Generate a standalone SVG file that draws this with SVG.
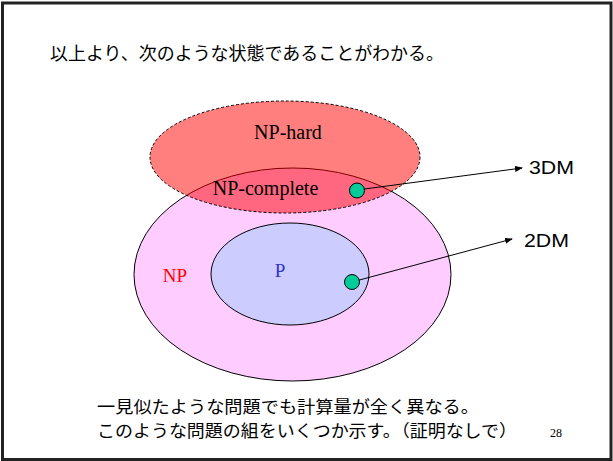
<svg xmlns="http://www.w3.org/2000/svg" width="613" height="461" viewBox="0 0 613 461">
<style>
.jp{font-family:"Noto Sans CJK JP","Liberation Sans",sans-serif;font-size:18px;fill:#000}
.jpb{font-family:"Noto Sans CJK JP","Liberation Sans",sans-serif;font-size:17px;fill:#000}
.serif{font-family:"Liberation Serif","DejaVu Serif",serif;fill:#000}
.lbl{font-family:"Liberation Sans","DejaVu Sans",sans-serif;font-size:19px;fill:#000}
.dot{fill:#00CC99;stroke:#000;stroke-width:1}
.conn{stroke:#000;stroke-width:1;fill:none;marker-end:url(#ah)}
</style>
<defs>
<marker id="ah" markerWidth="8" markerHeight="6" refX="7" refY="3" orient="auto" markerUnits="userSpaceOnUse">
<path d="M0,0 L8,3 L0,6 Z" fill="#000"/>
</marker>
</defs>
<rect x="0" y="0" width="613" height="461" fill="#fff"/>
<rect x="2.5" y="3" width="608.5" height="456.5" fill="none" stroke="#222" stroke-width="3"/>
<text class="jp" x="50" y="60" textLength="394" lengthAdjust="spacingAndGlyphs">以上より、次のような状態であることがわかる。</text>
<g id="np">
<ellipse cx="292.5" cy="274.5" rx="158.5" ry="106.5" fill="#FFCCFF" stroke="#000" stroke-width="1"/>
<text class="serif" x="175" y="282" font-size="19" text-anchor="middle" style="fill:#FF0000">NP</text>
</g>
<g id="p">
<ellipse cx="290" cy="274" rx="79" ry="51" fill="#CCCCFF" stroke="#000" stroke-width="1"/>
<text class="serif" x="280" y="277" font-size="19" text-anchor="middle" style="fill:#3333CC">P</text>
</g>
<g id="nphard">
<ellipse cx="285" cy="157" rx="135" ry="56" fill="#FF0000" fill-opacity="0.5" stroke="#000" stroke-width="1" stroke-dasharray="3,2"/>
<text class="serif" x="288" y="139" font-size="20" text-anchor="middle">NP-hard</text>
<text class="serif" x="265.5" y="195" font-size="20" text-anchor="middle">NP-complete</text>
</g>
<g id="connectors">
<line class="conn" x1="357" y1="190" x2="522" y2="168"/>
<line class="conn" x1="352" y1="282" x2="512" y2="239"/>
</g>
<g id="dot3dm"><circle class="dot" cx="357" cy="190.5" r="7.5"/></g>
<g id="dot2dm"><circle class="dot" cx="352" cy="282" r="7.5"/></g>
<g id="l3dm"><text class="lbl" x="529" y="174" textLength="45" lengthAdjust="spacingAndGlyphs">3DM</text></g>
<g id="l2dm"><text class="lbl" x="524" y="247" textLength="45" lengthAdjust="spacingAndGlyphs">2DM</text></g>
<text class="jpb" x="97" y="413" textLength="382" lengthAdjust="spacingAndGlyphs">一見似たような問題でも計算量が全く異なる。</text>
<text class="jpb" x="97" y="437" textLength="420" lengthAdjust="spacingAndGlyphs">このような問題の組をいくつか示す。（証明なしで）</text>
<text class="serif" x="550" y="437" font-size="12">28</text>
</svg>
